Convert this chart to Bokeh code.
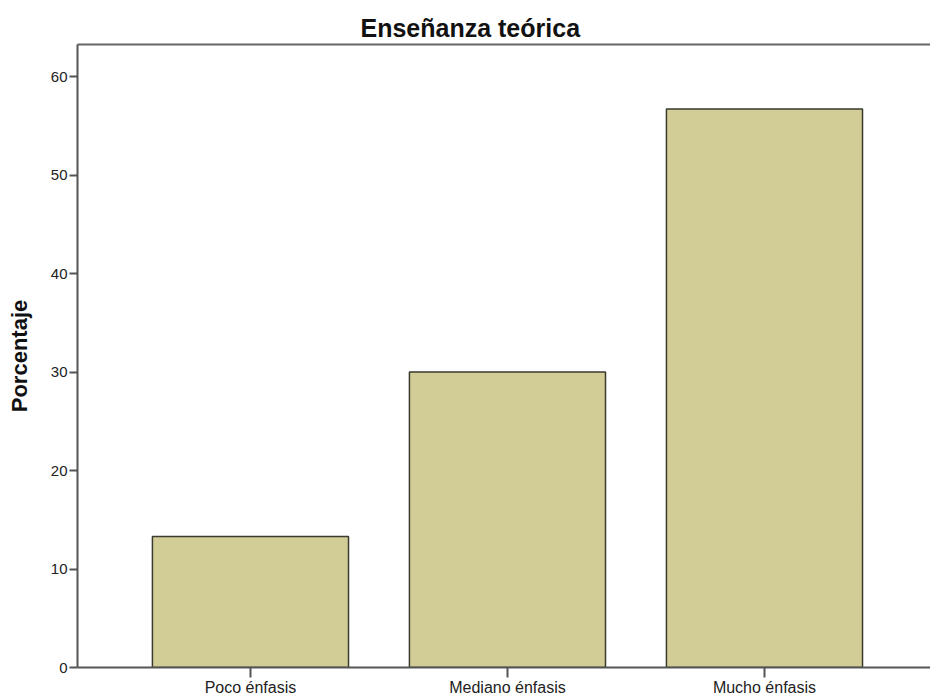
from bokeh.plotting import figure
from bokeh.models import Range1d, FixedTicker, LinearAxis, Title
from bokeh.embed import file_html
from bokeh.resources import INLINE

categories = ["Poco énfasis", "Mediano énfasis", "Mucho énfasis"]
percentages = [13.3, 30.0, 56.7]
y_ticks = [0, 10, 20, 30, 40, 50, 60]
title_text = "Enseñanza teórica"
y_label = "Porcentaje"

xs = list(range(len(categories)))

FONT = "Liberation Sans"
AXIS_COLOR = "#555555"

p = figure(width=930, height=698, output_backend="svg", toolbar_location=None,
           x_range=Range1d(-0.673, 2.646), y_range=Range1d(0, 63.25),
           min_border_left=77, min_border_right=0, min_border_top=44, min_border_bottom=31)
p.outline_line_color = None
p.xgrid.visible = False
p.ygrid.visible = False
p.background_fill_color = "white"
p.border_fill_color = "white"

p.vbar(x=xs, top=percentages, width=0.763, bottom=0,
       fill_color="#d2cd96", line_color="#3a3a30", line_width=1.5)

# axes
xa = p.xaxis[0]
xa.ticker = FixedTicker(ticks=xs)
xa.major_label_overrides = {i: c for i, c in zip(xs, categories)}
xa.major_tick_in = 0
xa.major_tick_out = 10
xa.minor_tick_out = 0
xa.minor_tick_in = 0
xa.major_label_standoff = 1
xa.major_label_text_font = FONT
xa.major_label_text_font_size = "16px"
xa.major_label_text_color = "#222222"
xa.axis_line_color = AXIS_COLOR
xa.axis_line_width = 2
xa.major_tick_line_color = AXIS_COLOR
xa.major_tick_line_width = 2

ya = p.yaxis[0]
ya.ticker = FixedTicker(ticks=y_ticks)
ya.major_tick_in = 0
ya.major_tick_out = 8
ya.minor_tick_out = 0
ya.minor_tick_in = 0
ya.major_label_standoff = 2
ya.major_label_text_font = FONT
ya.major_label_text_font_size = "15px"
ya.major_label_text_color = "#222222"
ya.axis_line_color = AXIS_COLOR
ya.axis_line_width = 2
ya.major_tick_line_color = AXIS_COLOR
ya.major_tick_line_width = 2
ya.axis_label = y_label
ya.axis_label_text_font = FONT
ya.axis_label_text_font_style = "bold"
ya.axis_label_text_font_size = "22px"
ya.axis_label_text_color = "#111111"
ya.axis_label_standoff = 16

top = LinearAxis(ticker=FixedTicker(ticks=[]), major_label_text_font_size="0px",
                 major_tick_out=0, major_tick_in=0, minor_tick_out=0, minor_tick_in=0,
                 major_label_standoff=0, axis_line_color="#666666", axis_line_width=2)
p.add_layout(top, "above")

p.title = Title(text=title_text, align="left", offset=283,
                text_font=FONT, text_font_style="bold", text_font_size="25px",
                text_color="#111111", standoff=6)

open("out.html", "w").write(file_html(p, INLINE))
